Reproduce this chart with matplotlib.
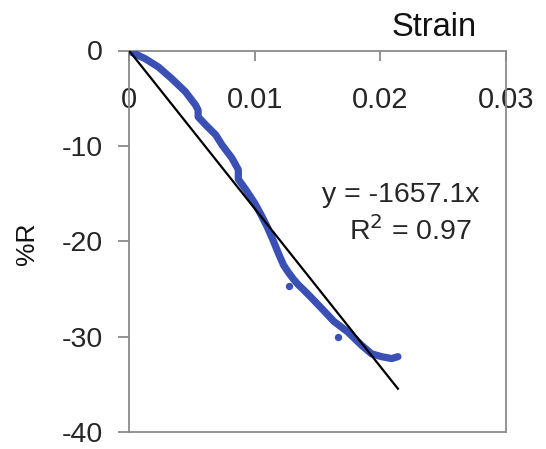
import matplotlib
matplotlib.use("Agg")
import matplotlib.pyplot as plt
import numpy as np

plt.rcParams['font.family'] = ['Liberation Sans', 'DejaVu Sans']
plt.rcParams['axes.unicode_minus'] = False

strain = [0.0, 0.00008, 0.0013, 0.00235, 0.0034, 0.0045, 0.0053, 0.0055, 0.0055,
          0.0061, 0.0069, 0.0074, 0.0082, 0.0087, 0.0087, 0.0093, 0.0100, 0.0105,
          0.0110, 0.0115, 0.0119, 0.0123, 0.0127, 0.0131, 0.0135, 0.0139,
          0.0145, 0.0153, 0.0163, 0.0174, 0.0185, 0.0193, 0.0201, 0.0209, 0.0214]
pct_r = [0.0, -0.1, -0.87, -1.74, -2.95, -4.34, -5.73, -6.25, -6.95,
         -7.8, -8.85, -9.9, -11.3, -12.5, -13.5, -14.6, -16.0, -17.2,
         -18.5, -20.0, -21.3, -22.5, -23.3, -24.0, -24.6, -25.1,
         -25.9, -27.0, -28.4, -29.5, -30.9, -31.8, -32.1, -32.3, -32.1]
# isolated points
out_strain = [0.0127, 0.0166]
out_pct_r = [-24.65, -30.0]

slope = -1657.1
fit_x = [0.0, 0.0214]

x_ticks = [0, 0.01, 0.02, 0.03]
x_tick_labels = ['0', '0.01', '0.02', '0.03']
y_ticks = [0, -10, -20, -30, -40]
y_tick_labels = ['0', '-10', '-20', '-30', '-40']

W, H = 546, 449
fig = plt.figure(figsize=(W / 100, H / 100), dpi=100)
ax = fig.add_axes([129 / W, 1 - 432 / H, (506 - 129) / W, (432 - 50.5) / H])

blue = '#3a50b4'
ax.plot(strain, pct_r, color=blue, lw=5.2, solid_capstyle='round',
        solid_joinstyle='round', zorder=3)
ax.scatter(out_strain, out_pct_r, color=blue, s=28, zorder=3, linewidths=0)
ax.plot(fit_x, [slope * v for v in fit_x], color='black', lw=1.6, zorder=4)

ax.set_xlim(0, 0.03)
ax.set_ylim(-40, 0)

gray = '#8a8a8a'
for s in ['left', 'right', 'bottom', 'top']:
    ax.spines[s].set_color(gray)
    ax.spines[s].set_linewidth(1.3)

ax.xaxis.tick_top()
ax.set_xticks(x_ticks)
ax.set_xticklabels(x_tick_labels)
ax.tick_params(axis='x', direction='in', length=7, width=1.3, color=gray,
               labelsize=21, pad=-46, labelcolor='#262626')
ax.set_yticks(y_ticks)
ax.set_yticklabels(y_tick_labels)
ax.tick_params(axis='y', direction='out', length=8, width=1.3, color=gray,
               labelsize=20.5, pad=11, labelcolor='#262626')

ax.text(401, 449 - 195, 'y = -1657.1x', transform=None, fontsize=20.5,
        ha='center', va='center', color='#262626')
ax.text(410, 449 - 231, r'R$^2$ = 0.97', transform=None, fontsize=20.5,
        ha='center', va='center', color='#262626')

fig.text(434 / W, 1 - 27 / H, 'Strain', fontsize=23.5, ha='center', va='center',
         color='#111111')
fig.text(27 / W, 1 - 244 / H, '%R', fontsize=19, ha='center', va='center',
         rotation=90, color='#111111')

fig.savefig('out.png', dpi=100, facecolor='white')
